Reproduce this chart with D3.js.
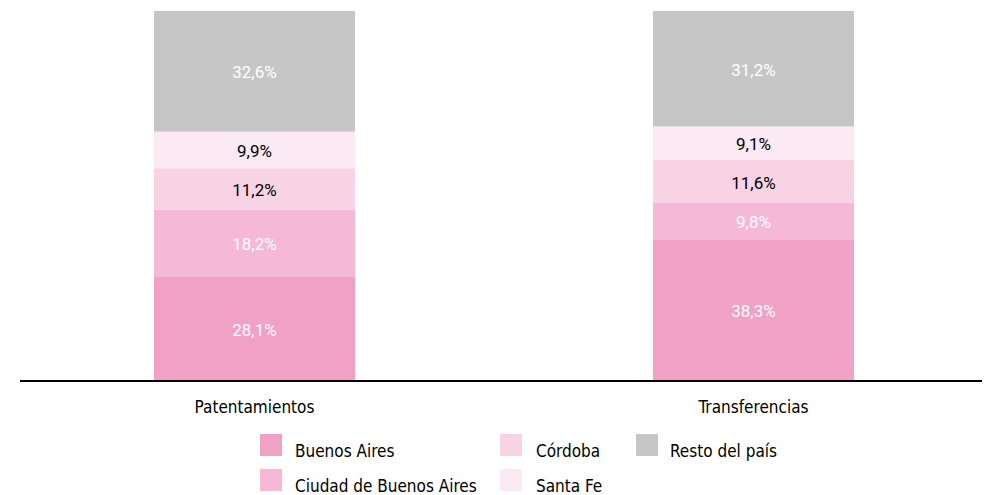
<!DOCTYPE html>
<html>
<head>
<meta charset="utf-8">
<script src="https://cdn.jsdelivr.net/npm/d3@7"></script>
<style>
  body { margin: 0; background: #fff; }
  text { font-family: "DejaVu Sans Condensed", sans-serif; }
  .val { font-family: Roboto, sans-serif; font-size: 17px; }
</style>
</head>
<body>
<div id="chart"></div>
<script>
const w = 984;
const h = 495;

// data
const categories = ["Patentamientos", "Transferencias"];
const regions = ["Buenos Aires", "Ciudad de Buenos Aires", "Córdoba", "Santa Fe", "Resto del país"];
const buenosAires = [28.1, 38.3];
const caba = [18.2, 9.8];
const cordoba = [11.2, 11.6];
const santaFe = [9.9, 9.1];
const resto = [32.6, 31.2];

const colors = ["#f1a1c6", "#f5b8d6", "#f8d3e4", "#fbe9f3", "#c6c6c6"];
const labelColors = ["#fff", "#fff", "#000", "#000", "#fff"];

const rows = categories.map(function(c, i) {
    return {
        cat: c,
        "Buenos Aires": buenosAires[i],
        "Ciudad de Buenos Aires": caba[i],
        "Córdoba": cordoba[i],
        "Santa Fe": santaFe[i],
        "Resto del país": resto[i]
    };
});

const stack = d3.stack().keys(regions)(rows);

const x = d3.scaleBand()
    .domain(categories)
    .range([5, 1003])
    .paddingInner(0.597)
    .paddingOuter(0.2985);

const y = d3.scaleLinear()
    .domain([0, 100])
    .range([381, 11]);

const svg = d3.select("#chart")
    .append("svg")
    .attr("width", w)
    .attr("height", h);

const layer = svg.selectAll(".layer")
    .data(stack)
    .enter().append("g")
    .attr("class", "layer")
    .attr("fill", (d, i) => colors[i]);

layer.selectAll("rect")
    .data(d => d)
    .enter().append("rect")
    .attr("x", d => x(d.data.cat))
    .attr("width", x.bandwidth())
    .attr("y", d => y(d[1]))
    .attr("height", d => y(d[0]) - y(d[1]));

// value labels
stack.forEach(function(s, i) {
    svg.selectAll(".val" + i)
        .data(s)
        .enter().append("text")
        .attr("class", "val")
        .attr("text-anchor", "middle")
        .attr("x", d => x(d.data.cat) + x.bandwidth() / 2)
        .attr("y", d => (y(d[0]) + y(d[1])) / 2 + 7)
        .attr("fill", labelColors[i])
        .text(d => d3.format(".1f")(d[1] - d[0]).replace(".", ",") + "%");
});

// category labels
const xAxis = svg.append("g")
    .attr("transform", "translate(0,381)")
    .call(d3.axisBottom(x).tickSize(0).tickPadding(20));
xAxis.select(".domain").remove();
xAxis.selectAll("text")
    .attr("font-size", "17px")
    .attr("fill", "#000");

svg.append("line")
    .attr("x1", 20)
    .attr("x2", 982)
    .attr("y1", 381)
    .attr("y2", 381)
    .attr("stroke", "#000")
    .attr("stroke-width", 2);

// legend
const legendPos = [[260, 434], [260, 469], [500, 434], [500, 469], [636, 434]];
const legend = svg.selectAll(".legend")
    .data(regions)
    .enter().append("g")
    .attr("class", "legend")
    .attr("transform", (d, i) => "translate(" + legendPos[i][0] + "," + legendPos[i][1] + ")");

legend.append("rect")
    .attr("width", 22)
    .attr("height", 22)
    .attr("fill", (d, i) => colors[i]);

legend.append("text")
    .attr("x", (d, i) => i < 2 ? 35 : 36 - (i == 4 ? 2 : 0))
    .attr("y", 23)
    .attr("font-size", "17px")
    .attr("fill", "#000")
    .text(d => d);
</script>
</body>
</html>
